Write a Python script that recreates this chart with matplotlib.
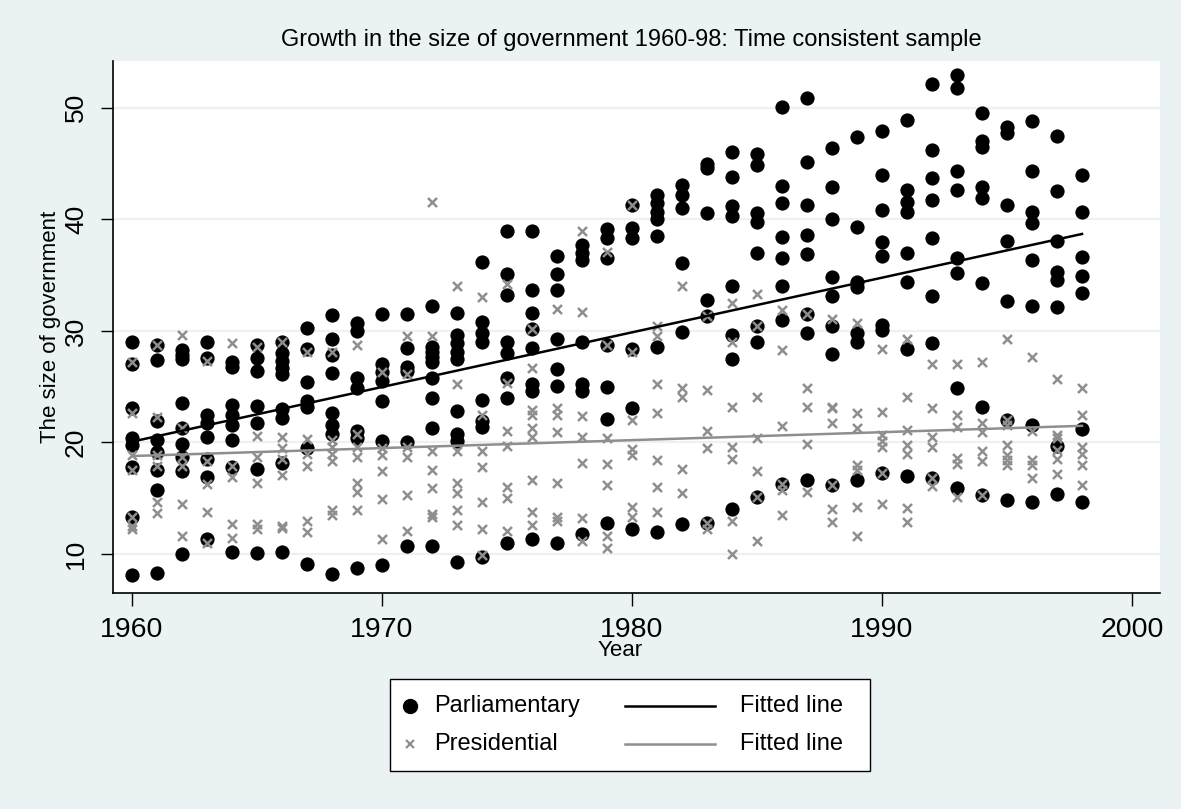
import numpy as np
import matplotlib
matplotlib.use("Agg")
import matplotlib.pyplot as plt
from matplotlib.lines import Line2D
from matplotlib.patches import Rectangle

plt.rcParams["font.family"] = ["Liberation Sans", "DejaVu Sans"]

BG = "#eaf2f3"
PRES_GREY = "#8e8e8e"

YEARS = list(range(1960, 1999))

# size of government, parliamentary systems (one row per year)
PARLIAMENTARY = [
    [29.0, 27.0, 23.1, 20.4, 19.8, 17.8, 13.3, 8.1],              # 1960
    [28.7, 27.4, 21.9, 20.2, 19.1, 17.5, 15.7, 8.3],              # 1961
    [28.3, 27.8, 27.5, 23.5, 21.3, 19.9, 18.7, 17.4, 10.0],       # 1962
    [29.0, 27.6, 22.5, 21.7, 20.5, 18.5, 16.9, 11.3],             # 1963
    [27.2, 26.8, 23.4, 22.5, 21.6, 20.2, 17.8, 10.2],             # 1964
    [28.7, 27.6, 26.4, 23.3, 21.7, 17.6, 10.1],                   # 1965
    [29.0, 28.0, 27.3, 26.7, 26.1, 23.0, 22.2, 18.2, 10.2],       # 1966
    [30.3, 28.4, 25.4, 23.7, 23.2, 19.5, 9.1],                    # 1967
    [31.4, 29.3, 27.8, 26.2, 22.6, 21.6, 20.8, 8.2],              # 1968
    [30.7, 30.0, 25.8, 24.9, 21.0, 20.4, 8.7],                    # 1969
    [31.5, 27.0, 26.3, 25.5, 23.7, 20.1, 9.0],                    # 1970
    [31.5, 28.5, 26.8, 26.4, 20.0, 10.7],                         # 1971
    [32.2, 28.6, 28.1, 27.7, 27.2, 25.8, 24.0, 21.3, 10.7],       # 1972
    [31.6, 29.6, 28.9, 28.1, 27.5, 22.8, 20.8, 20.1, 9.3],        # 1973
    [36.2, 30.8, 29.8, 29.0, 23.8, 21.9, 21.4, 9.7],              # 1974
    [39.0, 35.1, 33.2, 29.0, 28.0, 25.8, 24.0, 11.0],             # 1975
    [39.0, 33.7, 31.6, 30.2, 28.5, 25.2, 24.6, 11.3],             # 1976
    [36.7, 35.1, 33.7, 29.3, 26.6, 25.1, 11.0],                   # 1977
    [37.7, 37.0, 36.4, 29.0, 25.2, 24.6, 11.8],                   # 1978
    [39.1, 38.3, 36.5, 28.7, 25.0, 22.1, 12.8],                   # 1979
    [41.3, 39.2, 38.3, 28.4, 23.1, 12.2],                         # 1980
    [42.2, 41.5, 40.7, 40.0, 38.5, 28.6, 12.0],                   # 1981
    [43.1, 42.2, 41.0, 36.1, 29.9, 12.7],                         # 1982
    [45.0, 44.6, 40.6, 32.8, 31.3, 12.8],                         # 1983
    [46.0, 43.8, 41.2, 40.3, 34.0, 29.6, 27.5, 14.0],             # 1984
    [45.9, 44.9, 40.6, 39.8, 37.0, 30.4, 29.0, 15.1],             # 1985
    [50.1, 43.0, 41.5, 38.4, 36.5, 34.0, 31.0, 16.3],             # 1986
    [50.9, 45.1, 41.3, 38.6, 36.9, 31.5, 29.8, 16.6],             # 1987
    [46.4, 42.9, 40.0, 34.8, 33.1, 30.4, 27.9, 16.2],             # 1988
    [47.4, 39.3, 34.4, 33.9, 29.8, 29.0, 16.6],                   # 1989
    [47.9, 44.0, 40.8, 38.0, 36.7, 30.5, 30.1, 17.3],             # 1990
    [48.9, 42.6, 41.6, 40.7, 37.0, 34.4, 28.4, 17.0],             # 1991
    [52.1, 46.2, 43.7, 41.7, 38.3, 33.1, 28.9, 16.8],             # 1992
    [52.9, 51.8, 44.3, 42.6, 36.5, 35.2, 24.9, 15.9],             # 1993
    [49.5, 47.0, 46.5, 42.9, 41.9, 34.3, 23.2, 15.3],             # 1994
    [48.3, 47.7, 41.3, 38.1, 32.7, 22.0, 14.8],                   # 1995
    [48.8, 44.3, 40.7, 39.7, 36.4, 32.2, 21.6, 14.7],             # 1996
    [47.5, 42.5, 38.1, 35.3, 34.6, 32.1, 19.7, 15.4],             # 1997
    [44.0, 40.7, 36.6, 34.9, 33.4, 21.2, 14.7],                   # 1998
]

# size of government, presidential systems
PRESIDENTIAL = [
    [27.2, 22.6, 18.9, 17.5, 13.3, 12.5, 12.2],                   # 1960
    [28.7, 22.3, 18.9, 17.9, 14.7, 13.7],                         # 1961
    [29.6, 21.3, 18.7, 17.9, 14.5, 11.6],                         # 1962
    [27.3, 18.3, 16.3, 13.8, 11.0],                               # 1963
    [28.9, 17.9, 16.9, 12.7, 11.4],                               # 1964
    [28.6, 20.6, 18.7, 16.4, 12.7, 12.2],                         # 1965
    [29.0, 20.5, 19.5, 18.5, 17.1, 12.5, 12.3],                   # 1966
    [28.1, 20.3, 19.0, 17.9, 13.0, 12.0],                         # 1967
    [28.1, 20.2, 19.6, 19.0, 18.3, 13.9, 13.5],                   # 1968
    [28.7, 20.8, 19.6, 18.7, 16.4, 15.6, 13.9],                   # 1969
    [26.3, 19.5, 18.9, 17.4, 14.9, 11.3],                         # 1970
    [29.5, 26.1, 19.6, 18.7, 15.3, 12.1],                         # 1971
    [41.6, 29.5, 19.2, 17.5, 15.9, 13.6, 13.3],                   # 1972
    [34.0, 25.2, 19.2, 16.4, 15.5, 13.9, 12.6],                   # 1973
    [33.0, 22.5, 19.2, 17.8, 14.7, 12.2, 9.9],                    # 1974
    [34.2, 25.3, 21.0, 19.7, 16.0, 15.0, 12.1],                   # 1975
    [30.2, 26.7, 22.9, 22.5, 21.3, 20.5, 16.6, 13.8, 12.6],       # 1976
    [32.0, 23.1, 22.5, 20.9, 16.4, 13.3, 13.0],                   # 1977
    [39.0, 31.7, 22.4, 20.5, 18.2, 13.2, 11.2],                   # 1978
    [37.1, 28.7, 20.4, 18.1, 16.2, 11.6, 10.5],                   # 1979
    [41.3, 28.1, 22.0, 19.4, 18.9, 14.2, 13.3],                   # 1980
    [30.4, 29.5, 25.2, 22.6, 18.4, 16.0, 13.8],                   # 1981
    [34.0, 24.9, 24.1, 17.6, 15.5],                               # 1982
    [31.3, 24.7, 21.0, 19.5, 12.8, 12.2],                         # 1983
    [32.5, 29.0, 23.2, 19.6, 18.5, 13.0, 10.0],                   # 1984
    [33.3, 30.4, 24.1, 20.4, 17.4, 15.1, 11.2],                   # 1985
    [31.9, 28.3, 21.5, 16.3, 15.7, 13.5],                         # 1986
    [31.5, 24.9, 23.2, 19.9, 15.6],                               # 1987
    [31.1, 23.2, 23.1, 21.7, 16.2, 14.0, 12.9],                   # 1988
    [30.7, 22.6, 21.3, 18.0, 17.5, 14.2, 11.6],                   # 1989
    [28.4, 22.7, 20.7, 20.1, 19.6, 17.3, 14.5],                   # 1990
    [29.3, 24.1, 21.1, 19.8, 19.0, 14.1, 12.9],                   # 1991
    [27.0, 23.1, 20.5, 19.6, 16.8, 16.1],                         # 1992
    [27.0, 22.5, 21.4, 18.6, 18.1, 15.1],                         # 1993
    [27.2, 21.7, 20.9, 19.2, 18.3, 15.3],                         # 1994
    [29.3, 22.0, 21.6, 19.8, 18.9, 18.4, 18.0],                   # 1995
    [27.7, 21.0, 18.4, 18.0, 16.8],                               # 1996
    [25.7, 20.7, 20.4, 19.3, 18.5, 17.2],                         # 1997
    [24.9, 22.5, 19.6, 19.0, 18.0, 16.2],                         # 1998
]

X_TICKS = [1960, 1970, 1980, 1990, 2000]
Y_TICKS = [10, 20, 30, 40, 50]


def flatten(rows):
    xs, ys = [], []
    for year, vals in zip(YEARS, rows):
        xs.extend([year] * len(vals))
        ys.extend(vals)
    return np.array(xs, dtype=float), np.array(ys)


px, py = flatten(PARLIAMENTARY)
qx, qy = flatten(PRESIDENTIAL)

fig = plt.figure(figsize=(11.81, 8.09), dpi=100, facecolor=BG)
W, H = 1181, 809
ax = fig.add_axes([113 / W, 1 - 593 / H, (1160 - 113) / W, (593 - 61) / H])
ax.set_facecolor("white")

ax.set_xlim(1959.24, 2001.12)
ax.set_ylim(6.5, 54.2)

# gridlines
for yv in Y_TICKS:
    ax.axhline(yv, color=BG, lw=1.6, zorder=0)

ax.scatter(px, py, s=105, color="black", marker="o", linewidths=0, zorder=2)
ax.scatter(qx, qy, s=42, color=PRES_GREY, marker="x", linewidths=1.8, zorder=3)

# linear fits over the observed years
xfit = np.array([min(YEARS), max(YEARS)], dtype=float)
bp = np.polyfit(px, py, 1)
bq = np.polyfit(qx, qy, 1)
ax.plot(xfit, np.polyval(bp, xfit), color="black", lw=1.8, zorder=4)
ax.plot(xfit, np.polyval(bq, xfit), color=PRES_GREY, lw=1.8, zorder=4)

for side in ("top", "right"):
    ax.spines[side].set_visible(False)
for side in ("left", "bottom"):
    ax.spines[side].set_linewidth(1.2)

ax.set_xticks(X_TICKS)
ax.set_yticks(Y_TICKS)
ax.tick_params(direction="out", length=9, width=1.0, pad=8)
ax.tick_params(axis="x", labelsize=20.5)
ax.tick_params(axis="y", labelsize=19, pad=9)
plt.setp(ax.get_yticklabels(), rotation=90, va="center")

ax.set_ylabel("The size of government", fontsize=16, va="center")
ax.yaxis.set_label_coords((51 - 113) / (1160 - 113), 0.5)
ax.set_xlabel("Year", fontsize=16, labelpad=0)
ax.xaxis.set_label_coords((620 - 113) / (1160 - 113), -(651 - 593) / (593 - 61))
ax.xaxis.label.set_va("center")

fig.text(631 / W, 1 - 40 / H, "Growth in the size of government 1960-98: Time consistent sample",
         ha="center", va="center", fontsize=17)

# legend box drawn in figure pixels
box = Rectangle((390 / W, 1 - 771 / H), (870 - 390) / W, (771 - 679) / H,
                transform=fig.transFigure, facecolor="white", edgecolor="black",
                lw=1.0, zorder=1)
fig.patches.append(box)

row1, row2 = 1 - 706 / H, 1 - 744 / H
fig.add_artist(Line2D([410 / W], [row1], marker="o", ms=10, color="black",
                      transform=fig.transFigure, ls="none"))
fig.add_artist(Line2D([410 / W], [row2], marker="x", ms=6, mew=1.6, color=PRES_GREY,
                      transform=fig.transFigure, ls="none"))
fig.add_artist(Line2D([625 / W, 715 / W], [row1, row1], color="black", lw=1.8,
                      transform=fig.transFigure))
fig.add_artist(Line2D([625 / W, 715 / W], [row2, row2], color=PRES_GREY, lw=1.8,
                      transform=fig.transFigure))
for x0, y0, txt in [(434, row1, "Parliamentary"), (434, row2, "Presidential"),
                    (740, row1, "Fitted line"), (740, row2, "Fitted line")]:
    fig.text(x0 / W, y0, txt, ha="left", va="center", fontsize=17)

fig.savefig("out.png", dpi=100, facecolor=BG)
